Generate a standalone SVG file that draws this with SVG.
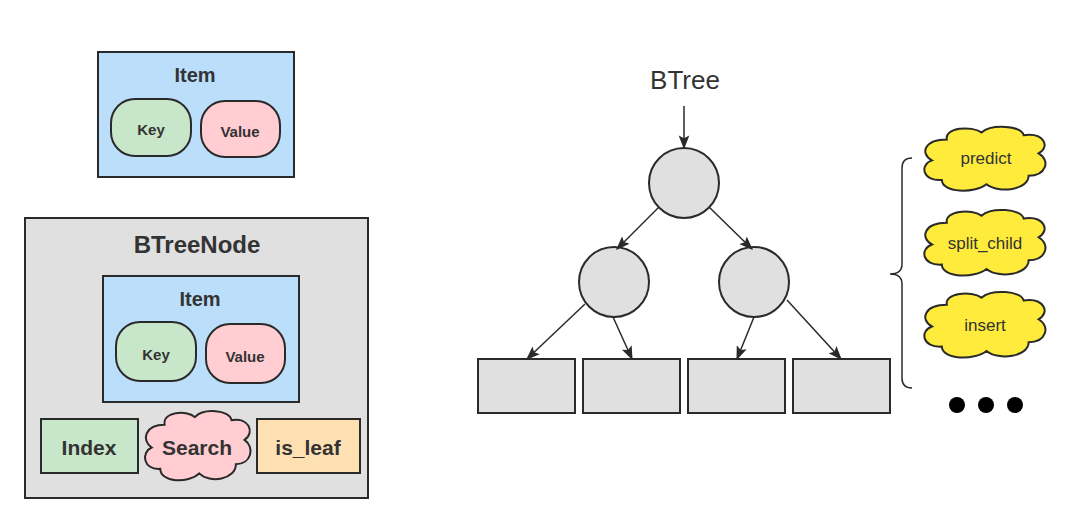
<svg xmlns="http://www.w3.org/2000/svg" width="1071" height="523" viewBox="0 0 1071 523">
<style>
.bx{stroke:#2a2a2a;stroke-width:2}
.blue{fill:#bbdefb}.green{fill:#c8e6c9}.pink{fill:#ffcdd2}.gray{fill:#e0e0e0}.orange{fill:#ffe0b2}.yellow{fill:#ffeb3b}
text{font-family:"Liberation Sans",Arial,sans-serif;fill:#333;text-anchor:middle;dominant-baseline:central}
.b{font-weight:bold}
.edge{stroke:#2a2a2a;stroke-width:1.5;fill:none;marker-end:url(#ah)}
</style>
<defs>
<marker id="ah" viewBox="0 0 10 10" refX="9" refY="5" markerWidth="14" markerHeight="14" orient="auto" markerUnits="userSpaceOnUse">
<path d="M0,1.2 L10,5 L0,8.8 L2,5 Z" fill="#2a2a2a"/>
</marker>
<symbol id="cloud" viewBox="0 0 100 100" preserveAspectRatio="none" overflow="visible">
<path vector-effect="non-scaling-stroke" d="M20,22 C18,5 40,2 48,12 C56,0 80,2 82,16 C98,12 104,32 94,42 C104,52 100,74 86,74 C86,94 62,100 52,86 C42,100 16,98 16,80 C0,82 -2,58 8,52 C-2,42 2,22 20,22 Z" stroke="#2a2a2a" stroke-width="2"/>
</symbol>
</defs>

<g id="item-top">
<rect class="bx blue" x="98" y="52" width="196" height="125"/>
<text class="b" x="195" y="75" font-size="20">Item</text>
<rect class="bx green" x="111" y="99" width="80" height="57" rx="24"/>
<text class="b" x="151" y="129" font-size="15">Key</text>
<rect class="bx pink" x="201" y="101" width="79" height="56" rx="24"/>
<text class="b" x="240" y="131" font-size="15">Value</text>
</g>

<g id="btreenode">
<rect class="bx gray" x="25" y="218" width="343" height="280"/>
<text class="b" x="197" y="244" font-size="24">BTreeNode</text>
<g id="item-inner">
<rect class="bx blue" x="103" y="276" width="196" height="126"/>
<text class="b" x="200" y="299" font-size="20">Item</text>
<rect class="bx green" x="116" y="322" width="80" height="59" rx="24"/>
<text class="b" x="156" y="354" font-size="15">Key</text>
<rect class="bx pink" x="206" y="324" width="79" height="59" rx="24"/>
<text class="b" x="245" y="356" font-size="15">Value</text>
</g>
<g id="index">
<rect class="bx green" x="41" y="419" width="97" height="54"/>
<text class="b" x="89" y="447" font-size="21">Index</text>
</g>
<g id="search">
<use href="#cloud" class="pink" x="143" y="408" width="108" height="76"/>
<text class="b" x="197" y="447" font-size="21">Search</text>
</g>
<g id="is_leaf">
<rect class="bx orange" x="257" y="419" width="103" height="54"/>
<text class="b" x="308" y="447" font-size="21">is_leaf</text>
</g>
</g>

<g id="btree-label">
<text x="685" y="80" font-size="26">BTree</text>
</g>

<g id="root"><circle class="bx gray" cx="684" cy="183" r="35"/></g>
<g id="left"><circle class="bx gray" cx="614" cy="282" r="35"/></g>
<g id="right"><circle class="bx gray" cx="754" cy="282" r="35"/></g>
<g id="leaf1"><rect class="bx gray" x="478" y="359" width="97" height="54"/></g>
<g id="leaf2"><rect class="bx gray" x="583" y="359" width="97" height="54"/></g>
<g id="leaf3"><rect class="bx gray" x="688" y="359" width="97" height="54"/></g>
<g id="leaf4"><rect class="bx gray" x="793" y="359" width="97" height="54"/></g>

<g id="connectors">
<line class="edge" x1="684" y1="106" x2="684" y2="148"/>
<line class="edge" x1="659" y1="207" x2="617" y2="249"/>
<line class="edge" x1="709" y1="207" x2="752" y2="249"/>
<line class="edge" x1="585" y1="304" x2="527" y2="359"/>
<line class="edge" x1="613" y1="317" x2="632" y2="359"/>
<line class="edge" x1="754" y1="317" x2="737" y2="359"/>
<line class="edge" x1="787" y1="300" x2="841" y2="359"/>
</g>

<g id="brace">
<path d="M912,158 Q902,158 902,168 L902,264 Q902,274 890,274 Q902,274 902,284 L902,378 Q902,388 912,388" fill="none" stroke="#2a2a2a" stroke-width="1.5"/>
</g>

<g id="predict">
<use href="#cloud" class="yellow" x="922" y="124" width="124" height="70"/>
<text x="986" y="158" font-size="17">predict</text>
</g>
<g id="split_child">
<use href="#cloud" class="yellow" x="922" y="207" width="124" height="72"/>
<text x="985" y="243" font-size="17">split_child</text>
</g>
<g id="insert">
<use href="#cloud" class="yellow" x="922" y="289" width="124" height="72"/>
<text x="985" y="325" font-size="17">insert</text>
</g>

<g id="ellipsis">
<circle cx="957" cy="405" r="8" fill="#000"/>
<circle cx="986" cy="405" r="8" fill="#000"/>
<circle cx="1015" cy="405" r="8" fill="#000"/>
</g>
</svg>
